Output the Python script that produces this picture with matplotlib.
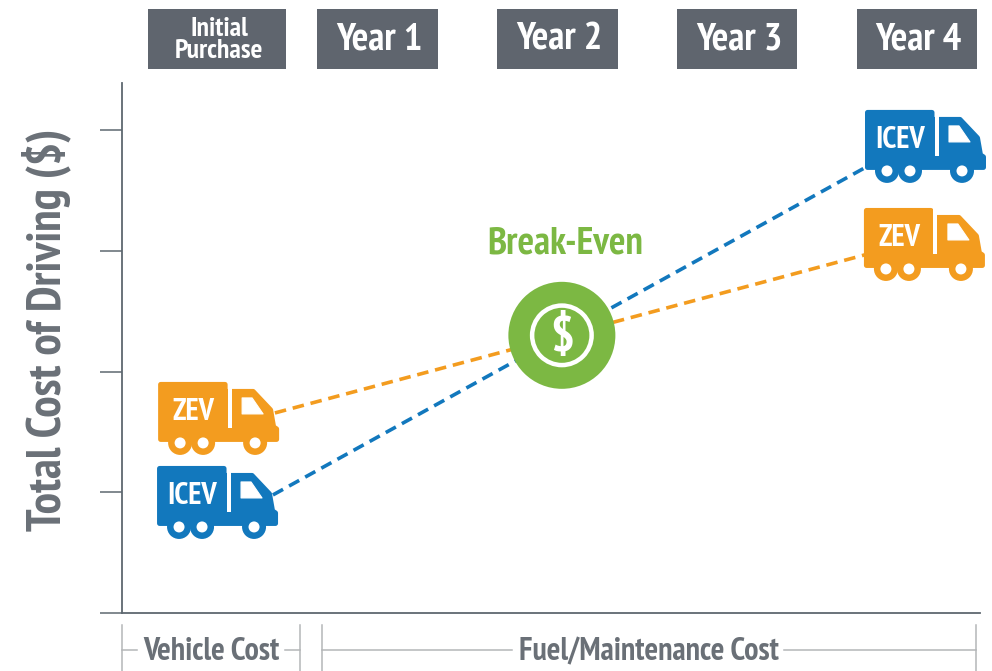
import matplotlib
matplotlib.use('Agg')
import matplotlib.pyplot as plt
from matplotlib.patches import Rectangle, Polygon, Ellipse

plt.rcParams['font.family'] = ['PT Sans Narrow', 'Asap Condensed', 'Liberation Sans', 'DejaVu Sans']

# header columns
header_labels = ['Initial\nPurchase', 'Year 1', 'Year 2', 'Year 3', 'Year 4']
header_x = [0.106, 1.0, 2.0, 3.0, 4.0]
header_w = [0.77, 0.67, 0.67, 0.67, 0.67]

# cost lines (x in years, y in tick units)
icev_x = [0.417, 3.71]
icev_y = [0.978, 3.687]
zev_x = [0.428, 3.71]
zev_y = [1.657, 2.966]
breakeven_x = 2.025
breakeven_y = 2.30
y_ticks = [0, 1, 2, 3, 4]

# trucks: top left corner of the box
icev_truck_x = [-0.228, 3.712]
icev_truck_y = [1.218, 4.167]
zev_truck_x = [-0.222, 3.706]
zev_truck_y = [1.914, 3.355]

ORANGE = '#f39c1f'
BLUE = '#1278bd'
GREEN = '#7cb843'
HEADER = '#5f656e'
TEXT = '#6a7077'
RULE = '#b4b6b8'
AXIS = '#5e6870'

fig = plt.figure(figsize=(9.92, 6.71), dpi=100)
ax = fig.add_axes([122 / 992, 1 - 613 / 671, (980 - 122) / 992, (613 - 83) / 671])
ax.set_xlim(-0.423, 4.352)
ax.set_ylim(0, 4.39)

# size of one pixel in data units
PX = 4.775 / 858
PY = 4.39 / 530

for s in ['top', 'right']:
    ax.spines[s].set_visible(False)
for s in ['left', 'bottom']:
    ax.spines[s].set_color(AXIS)
    ax.spines[s].set_linewidth(1.3)
ax.set_xticks([])
ax.set_yticks(y_ticks)
ax.set_yticklabels([])
ax.tick_params(axis='y', length=16, width=1.1, color=AXIS)

ax.plot(icev_x, icev_y, color=BLUE, lw=2.6, dashes=(3.2, 1.9), zorder=2)
ax.plot(zev_x, zev_y, color=ORANGE, lw=2.6, dashes=(3.2, 1.9), zorder=2)


def truck(x0, y0, color, label):
    def pts(lst):
        return [(x0 + a * PX, y0 - b * PY) for a, b in lst]

    def wheel(dx, r, c):
        ax.add_patch(Ellipse((x0 + dx * PX, y0 - 61 * PY), 2 * r * PX, 2 * r * PY,
                             fc=c, ec='none', zorder=6, clip_on=False))

    # thick round edge gives the soft corners, the gap is cut out afterwards
    body = [(2.5, 2.5), (67, 2.5), (67, 9.5), (95, 9.5), (112.5, 28),
            (115.5, 45), (118.5, 47), (118.5, 57.5), (2.5, 57.5)]
    ax.add_patch(Polygon(pts(body), closed=True, fc=color, ec=color, lw=3.6,
                         joinstyle='round', zorder=5, clip_on=False))
    ax.add_patch(Polygon(pts([(69.5, -1), (73.5, -1), (73.5, 46), (69.5, 46)]), closed=True,
                         fc='white', ec='none', zorder=5.5, clip_on=False))
    window = [(84, 16), (94, 16), (105, 32), (84, 32)]
    ax.add_patch(Polygon(pts(window), closed=True, fc='white', ec='white', lw=0.8,
                         joinstyle='round', zorder=6, clip_on=False))
    for dx in [22, 45, 97]:
        wheel(dx, 12, color)
        wheel(dx, 5.5, 'white')
    ax.text(x0 + 35 * PX, y0 - 30 * PY, label, color='white', fontsize=22, weight='bold',
            ha='center', va='center', zorder=7)


for x0, y0 in zip(icev_truck_x, icev_truck_y):
    truck(x0, y0, BLUE, 'ICEV')
for x0, y0 in zip(zev_truck_x, zev_truck_y):
    truck(x0, y0, ORANGE, 'ZEV')

# break-even badge
for r, c in [(53.5, GREEN), (32, 'white'), (27.5, GREEN)]:
    ax.add_patch(Ellipse((breakeven_x, breakeven_y), 2 * r * PX, 2 * r * PY, fc=c, ec='none', zorder=4))
ax.text(breakeven_x, breakeven_y - 3 * PY, '\\$', color='white', fontsize=36, weight='bold',
        ha='center', va='center', zorder=5)
ax.text(breakeven_x + 3 * PX, breakeven_y + 91 * PY, 'Break-Even', color=GREEN, fontsize=28,
        weight='bold', ha='center', va='center')

# header boxes above the plot
for x, w, label in zip(header_x, header_w, header_labels):
    ax.add_patch(Rectangle((x - w / 2, 4.39 + 14 * PY), w, 60 * PY, fc=HEADER, ec='none', clip_on=False))
    small = '\n' in label
    ax.text(x + 2 * PX, 4.39 + (43 if small else 43) * PY, label, color='white', weight='bold',
            fontsize=20 if small else 28, ha='center', va='center', linespacing=0.85)

ax.set_ylabel('Total Cost of Driving (\\$)', color=TEXT, fontsize=34.5, weight='bold', labelpad=0)
ax.yaxis.set_label_coords(-0.06, 0.535)

# baseline stub to the left of the axis is the zero tick; brackets below it
bracket_y = -37 * PY
for x1, x2, label, tx, half in [(-0.423, 0.567, 'Vehicle Cost', 0.075, 74),
                                (0.69, 4.33, 'Fuel/Maintenance Cost', 2.507, 136)]:
    for x in [x1, x2]:
        ax.plot([x, x], [-12 * PY, -58 * PY], color=RULE, lw=1.1, clip_on=False)
    ax.plot([x1, tx - half * PX], [bracket_y, bracket_y], color=RULE, lw=1.1, clip_on=False)
    ax.plot([tx + half * PX, x2], [bracket_y, bracket_y], color=RULE, lw=1.1, clip_on=False)
    ax.text(tx, bracket_y - 2 * PY, label, color=TEXT, fontsize=23, weight='bold', ha='center', va='center')

fig.savefig('out.png', dpi=100)
